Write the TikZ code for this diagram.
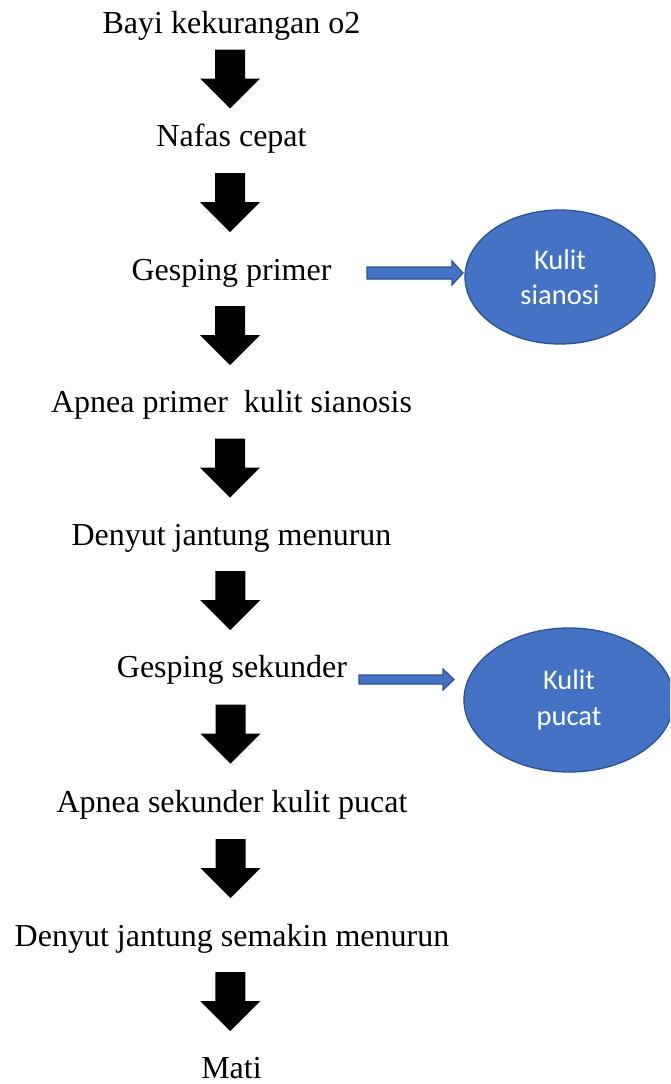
\documentclass[tikz,border=0pt]{standalone}
\usepackage{fontspec}
\setmainfont{Liberation Serif}
\newfontfamily\calib{Carlito}
\usetikzlibrary{shapes.geometric,calc}
\definecolor{ovalfill}{HTML}{4472C4}
\definecolor{ovalline}{HTML}{2F528F}

\tikzset{
  steptext/.style={anchor=base, inner sep=0pt, font=\fontsize{32}{38}\selectfont},
  oval/.style={ellipse, draw=ovalline, fill=ovalfill, line width=1.3pt,
    text=white, align=center, inner sep=0pt,
    font=\calib\fontsize{28.5}{35.5}\selectfont},
  sidearr/.style={draw=ovalline, fill=ovalfill, line width=1.2pt, line join=miter},
  bigarrow/.pic={\fill[black] (-15,-29.5) -- (15,-29.5) -- (15,-0.5) -- (30,-0.5)
      -- (0,29.5) -- (-30,-0.5) -- (-15,-0.5) -- cycle;}
}

% thick black arrow centred in the gap between two step lines
\newcommand\flowstep[2]{%
  \path ($(#1.base)!0.5!(#2.base)+(-1.5,-10.5)$) pic {bigarrow};}

% flat blue block arrow: start, length, shaft half-height, head half-height, head length
\newcommand\sidearrow[5]{%
  \filldraw[sidearr] (#1) ++(0,-#3) -- ++({#2-#5},0) -- ++(0,{#3-#4})
    -- ++(#5,#4) -- ++(-#5,#4) -- ++(0,{#3-#4}) -- ++({-(#2-#5)},0) -- cycle;}

\begin{document}
\begin{tikzpicture}[x=1pt,y=-1pt]
\useasboundingbox (0,0) rectangle (670,1084);
\clip (0,0) rectangle (670,1084);

\node[steptext] (t1) at (231.5,33)   {Bayi kekurangan o2};
\node[steptext] (t2) at (231.5,146)  {Nafas cepat};
\node[steptext] (t3) at (231.5,280)  {Gesping primer};
\node[steptext] (t4) at (231.5,412)  {Apnea primer\ \ kulit sianosis};
\node[steptext] (t5) at (231.5,545)  {Denyut jantung menurun};
\node[steptext] (t6) at (232,677)    {Gesping sekunder};
\node[steptext] (t7) at (232,812)    {Apnea sekunder kulit pucat};
\node[steptext] (t8) at (232,946)    {Denyut jantung semakin menurun};
\node[steptext] (t9) at (231.5,1078) {Mati};

\flowstep{t1}{t2}
\flowstep{t2}{t3}
\flowstep{t3}{t4}
\flowstep{t4}{t5}
\flowstep{t5}{t6}
\flowstep{t6}{t7}
\flowstep{t7}{t8}
\flowstep{t8}{t9}

\node[oval, minimum width=190pt, minimum height=134pt] (e1) at (560,277) {Kulit\\sianosi};
\node[oval, minimum width=210pt, minimum height=144pt] (e2) at (569,700) {Kulit\\pucat};

\coordinate (s1) at (367,273);
\coordinate (s2) at (359,679.5);
\sidearrow{s1}{96}{6}{12}{11}
\sidearrow{s2}{95}{4.5}{10.5}{11}
\end{tikzpicture}
\end{document}
